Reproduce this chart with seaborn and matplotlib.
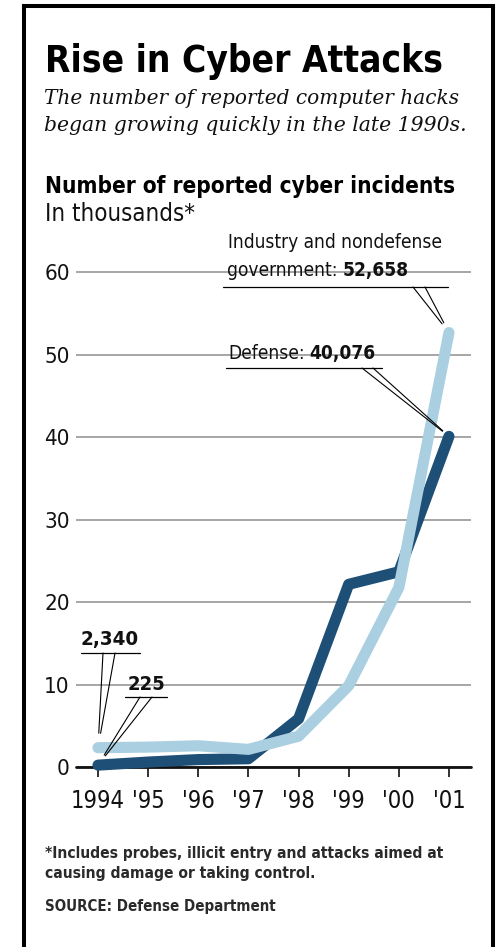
import matplotlib
matplotlib.use("Agg")
import numpy as np
import pandas as pd
import matplotlib.pyplot as plt
import matplotlib.transforms as mtransforms
from matplotlib.lines import Line2D
from matplotlib.patches import Rectangle
from matplotlib import font_manager as fm
import seaborn as sns

# ---------------- data ----------------
years = [1994, 1995, 1996, 1997, 1998, 1999, 2000, 2001]
year_labels = ["1994", "'95", "'96", "'97", "'98", "'99", "'00", "'01"]
defense = [0.225, 0.6, 0.9, 1.0, 5.844, 22.144, 23.662, 40.076]
industry = [2.340, 2.412, 2.573, 2.134, 3.734, 9.859, 21.756, 52.658]
y_ticks = [0, 10, 20, 30, 40, 50, 60]
series_names = ["Defense", "Industry and nondefense government"]

DARK = "#1e4f76"
LIGHT = "#a9cfe1"

sns.set_style("white")

names = {f.name for f in fm.fontManager.ttflist}
if "Liberation Sans Narrow" in names:
    NFAM, NSTR = "Liberation Sans Narrow", "normal"
elif any(f.name == "DejaVu Sans" and str(f.stretch) == "condensed" for f in fm.fontManager.ttflist):
    NFAM, NSTR = "DejaVu Sans", "condensed"
else:
    NFAM, NSTR = "Liberation Sans", "normal"


def nf(weight="normal"):
    return dict(family=[NFAM, "DejaVu Sans"], fontstretch=NSTR, fontweight=weight)


plt.rcParams["font.family"] = [NFAM, "DejaVu Sans"]

W, H = 499, 947
fig = plt.figure(figsize=(W / 100, H / 100), dpi=100)
fig.patch.set_facecolor("white")
R = fig.canvas.get_renderer()
PX = mtransforms.Affine2D().scale(1 / W, -1 / H).translate(0, 1) + fig.transFigure

# ---------------- axes ----------------
ppu = 8.25  # pixels per thousand
y0_px = 767
ymax = 61
ax_left, ax_right = 76, 471
ax = fig.add_axes([ax_left / W, (H - y0_px) / H, (ax_right - ax_left) / W, ymax * ppu / H])
ax.set_facecolor("none")

df = pd.DataFrame({
    "year": years * 2,
    "value": defense + industry,
    "series": [series_names[0]] * len(years) + [series_names[1]] * len(years),
})

sns.lineplot(data=df, x="year", y="value", hue="series", hue_order=series_names,
             palette={series_names[0]: DARK, series_names[1]: LIGHT},
             linewidth=8, legend=False, ax=ax, errorbar=None,
             solid_capstyle="round", solid_joinstyle="round", clip_on=False, zorder=3)

span = (ax_right - ax_left) / 50.14
ax.set_xlim(1994 - 22 / 50.14, 1994 - 22 / 50.14 + span)
ax.set_ylim(0, ymax)
ax.set_xticks(years)
ax.set_xticklabels(year_labels)
ax.set_yticks(y_ticks)
ax.set_yticklabels([str(v) for v in y_ticks])
ax.set_xlabel("")
ax.set_ylabel("")
for s in ax.spines.values():
    s.set_visible(False)
ax.set_axisbelow(True)
ax.grid(axis="y", color="#8e8e8e", linewidth=1.1)
ax.grid(axis="x", visible=False)
ax.axhline(0, color="#111111", linewidth=2.0, zorder=1.5, clip_on=False)
ax.tick_params(axis="x", bottom=True, direction="out", length=7.5, width=1.3, color="#222222",
               pad=8, labelsize=17, labelcolor="#111111")
ax.tick_params(axis="y", left=False, length=0, pad=4.5, labelsize=16, labelcolor="#111111")
for lab in ax.get_xticklabels() + ax.get_yticklabels():
    lab.set_fontfamily([NFAM, "DejaVu Sans"])
    lab.set_fontstretch(NSTR)

# white gaps in grid lines behind labels
for (x1, x2, yc) in [(218, 451, 272), (218, 390, 356), (123, 173, 684)]:
    fig.add_artist(Rectangle((x1, yc + 3), x2 - x1, 6, transform=PX,
                             facecolor="white", edgecolor="none", zorder=1))

# ---------------- text helpers ----------------
def fit(x, y, s, width, size0, **kw):
    t = fig.text(x, y, s, transform=PX, fontsize=size0, va="baseline", ha="left", **kw)
    w = t.get_window_extent(R).width
    t.set_fontsize(size0 * width / w)
    return t


def rich(x, y, parts, size, gap=0.0):
    cur = x
    for i, (s, w) in enumerate(parts):
        t = fig.text(cur, y, s, transform=PX, fontsize=size, va="baseline", ha="left",
                     color="#111111", zorder=5, **nf(w))
        cur += t.get_window_extent(R).width + (gap if i == 0 else 0)
    return cur


# ---------------- header ----------------
fit(45, 72, "Rise in Cyber Attacks", 398, 30, color="black", **nf("bold"))
fit(44, 104, "The number of reported computer hacks", 416, 14,
    family=["DejaVu Serif"], style="italic", color="#111111")
fit(44, 131, "began growing quickly in the late 1990s.", 425, 14,
    family=["DejaVu Serif"], style="italic", color="#111111")
fit(45, 193, "Number of reported cyber incidents", 411, 16, color="black", **nf("bold"))
fit(45, 221, "In thousands*", 150, 15, color="#111111", **nf("normal"))

# ---------------- annotations ----------------
t_ind = fit(228, 248, "Industry and nondefense", 215, 15, color="#111111", zorder=5, **nf("normal"))
asz = t_ind.get_fontsize()
rich(227, 276, [("government:", "normal"), ("52,658", "bold")], asz, gap=5)
rich(228, 359, [("Defense:", "normal"), ("40,076", "bold")], asz, gap=5)
fit(81, 645, "2,340", 58, 15, color="#111111", zorder=5, **nf("bold"))
fit(128, 690, "225", 38, 15, color="#111111", zorder=5, **nf("bold"))

# underlines
for (x1, x2, yy) in [(223, 448, 287), (226, 382, 368), (81, 140, 653), (125, 167, 697)]:
    fig.add_artist(Line2D([x1, x2], [yy, yy], transform=PX, color="black", linewidth=0.9))

# leader wedges from label underlines to data points
leaders = [
    ((413, 287), (425, 287), years[-1], industry[-1], 8),
    ((362, 368), (373, 368), years[-1], defense[-1], 6),
    ((103, 653), (115, 653), years[0], industry[0], 10.5),
    ((140, 697), (152, 697), years[0], defense[0], 8.5),
]
for p1, p2, xd, yd, shr in leaders:
    for (px, py) in (p1, p2):
        ax.annotate("", xy=(xd, yd), xycoords="data",
                    xytext=(px, H - py), textcoords="figure pixels",
                    arrowprops=dict(arrowstyle="-", color="black", lw=0.8,
                                    shrinkA=0, shrinkB=shr),
                    annotation_clip=False, zorder=6)

# ---------------- footnotes ----------------
t_fn = fit(45, 858, "*Includes probes, illicit entry and attacks aimed at", 398, 11,
           color="#2a2a2a", **nf("bold"))
fsz = t_fn.get_fontsize()
fig.text(45, 878, "causing damage or taking control.", transform=PX, fontsize=fsz,
         va="baseline", ha="left", color="#2a2a2a", **nf("bold"))
fig.text(45, 911, "SOURCE: Defense Department", transform=PX, fontsize=fsz * 0.97,
         va="baseline", ha="left", color="#2a2a2a", **nf("bold"))

# ---------------- frame ----------------
frame_kw = dict(transform=PX, color="black", linewidth=2.9, solid_capstyle="projecting")
fig.add_artist(Line2D([24, 24], [6, H + 5], **frame_kw))
fig.add_artist(Line2D([24, 493], [6, 6], **frame_kw))
fig.add_artist(Line2D([493, 493], [6, H + 5], **frame_kw))

fig.savefig("out.png", dpi=100)
